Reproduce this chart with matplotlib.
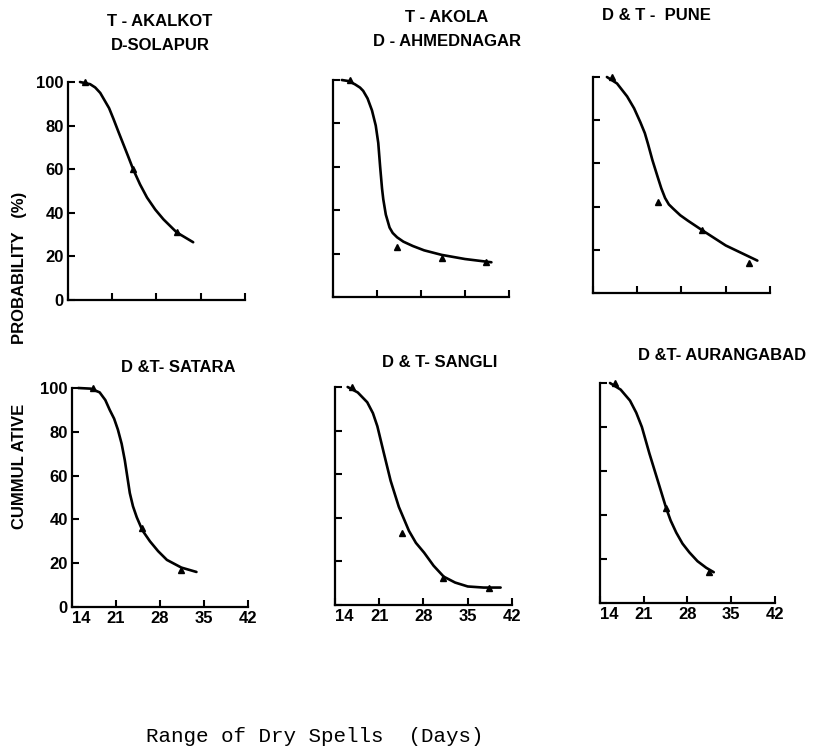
import matplotlib
matplotlib.use("Agg")
import matplotlib.pyplot as plt

# (days, cumulative probability %)

titles = [["T - AKALKOT", "D-SOLAPUR"],
          ["T - AKOLA", "D - AHMEDNAGAR"],
          ["D & T -  PUNE"],
          ["D &T- SATARA"],
          ["D & T- SANGLI"],
          ["D &T- AURANGABAD"]]

# plotted points (small triangle marks)
akalkot_px = [16.7, 24.3, 31.2]
akalkot_py = [100, 60, 31]
akola_px = [16.7, 24.2, 31.3, 38.4]
akola_py = [100, 23, 18, 16]
pune_px = [17.0, 24.3, 31.3, 38.6]
pune_py = [100, 42, 29, 14]
satara_px = [17.3, 25.1, 31.4]
satara_py = [100, 36, 17]
sangli_px = [16.7, 24.6, 31.1, 38.3]
sangli_py = [100, 33, 12.4, 8]
aurang_px = [16.4, 24.6, 31.4]
aurang_py = [100, 43, 14]

# hand fitted curves
akalkot_cx = [15.9, 17.5, 18.3, 19.1, 20.5, 21.2, 22.0, 23.5, 24.3, 25.4, 26.5, 27.8, 29.1, 31.2, 33.8]
akalkot_cy = [100, 99, 97.5, 95, 88, 83, 77, 66, 60, 53, 47, 41.5, 37, 31, 26.5]
akola_cx = [15.4, 16.5, 17.5, 18.3, 18.8, 19.5, 20.2, 20.8, 21.2, 21.5, 21.8, 22.0, 22.4, 23.0,
            23.5, 24.2, 25.2, 26.7, 28.5, 31.3, 35.0, 39.2]
akola_cy = [100, 99.5, 98, 96.5, 95, 91.5, 86, 79, 71, 60, 50, 45, 38, 32,
            29.5, 27.5, 25.5, 23.5, 21.5, 19.4, 17.5, 16]
pune_cx = [16.2, 17.8, 19.4, 20.5, 21.5, 22.2, 22.7, 23.4, 24.2, 24.8, 25.4, 26.0, 26.7, 27.8,
           29.0, 31.3, 35.0, 40.0]
pune_cy = [100, 97, 91, 85.5, 79, 74, 69, 61.5, 54, 48.5, 44, 41, 39, 36,
           33.5, 29, 22, 15]
satara_cx = [15.0, 17.0, 18.4, 19.3, 20.0, 20.7, 21.3, 21.9, 22.4, 22.8, 23.2, 23.7, 24.3, 25.2,
             26.4, 27.7, 29.1, 31.4, 33.8]
satara_cy = [100, 99.7, 98, 94.5, 90, 86, 81, 74.5, 67, 59.5, 52, 46, 41, 35,
             30, 25.5, 21.5, 18, 16]
sangli_cx = [16.0, 17.6, 19.1, 20.0, 20.7, 21.2, 21.7, 22.8, 24.1, 25.7, 26.8, 28.1, 29.6, 31.2,
             33.0, 35.0, 37.5, 40.2]
sangli_cy = [100, 97.5, 93, 88, 82, 76, 70, 57, 45, 34, 28.5, 24, 18, 13,
             10.3, 8.5, 8, 8]
aurang_cx = [15.6, 17.3, 18.8, 19.8, 20.7, 21.9, 23.2, 24.6, 25.3, 26.2, 27.2, 28.3, 29.6, 31.0, 32.2]
aurang_cy = [100, 97, 92, 86.5, 80, 68, 56, 43, 37.5, 32, 27, 23, 19, 16, 14]

points = [(akalkot_px, akalkot_py), (akola_px, akola_py), (pune_px, pune_py),
          (satara_px, satara_py), (sangli_px, sangli_py), (aurang_px, aurang_py)]
curves = [(akalkot_cx, akalkot_cy), (akola_cx, akola_cy), (pune_cx, pune_cy),
          (satara_cx, satara_cy), (sangli_cx, sangli_cy), (aurang_cx, aurang_cy)]

xticks = [14, 21, 28, 35, 42]
yticks = [0, 20, 40, 60, 80, 100]

W, H = 820, 751
fig = plt.figure(figsize=(W / 100, H / 100), dpi=100)

# axes boxes in pixels: left, right, top, bottom
boxes = [(68, 245, 82, 300), (333, 509, 80, 297), (593, 770, 77, 293),
         (72, 248, 388, 607), (335, 512, 387, 605), (600, 775, 383, 603)]

lab_font = dict(family=["Liberation Sans", "DejaVu Sans"], weight="bold")

for i in range(6):
  l, r, t, b = boxes[i]
  ax = fig.add_axes([l / W, 1 - b / H, (r - l) / W, (b - t) / H])
  cx, cy = curves[i]
  px, py = points[i]
  ax.plot(cx, cy, color="black", lw=1.9, solid_joinstyle="round", solid_capstyle="round", clip_on=False)
  ax.plot(px, py, "^", color="black", ms=4.5, clip_on=False)
  ax.set_xlim(14, 42)
  ax.set_ylim(0, 100)
  ax.set_xticks(xticks)
  ax.set_yticks(yticks)
  for s in ["top", "right"]:
    ax.spines[s].set_visible(False)
  for s in ["left", "bottom"]:
    ax.spines[s].set_linewidth(1.6)
  ax.tick_params(direction="in", length=5, width=1.5, pad=3)
  if i % 3 == 0:
    ax.set_yticklabels([str(v) for v in yticks], fontdict=lab_font, fontsize=12)
  else:
    ax.set_yticklabels([])
  if i >= 3:
    xl = ax.set_xticklabels([str(v) for v in xticks], fontdict=lab_font, fontsize=12)
    xl[0].set_ha("left")   # the "14" sits just right of the corner
  else:
    ax.set_xticklabels([])

# panel titles (centre x, first line y in pixels)
title_pos = [(160, 22), (447, 18), (656, 15), (178, 368), (440, 363), (722, 355)]
for i in range(6):
  x0, y0 = title_pos[i]
  for k, line in enumerate(titles[i]):
    fig.text(x0 / W, 1 - (y0 + 23 * k) / H, line, ha="center", va="center",
             fontsize=12, **lab_font)

# shared y label, split in two words like the original
fig.text(20 / W, 1 - 268 / H, "PROBABILITY   (%)", rotation=90, ha="center", va="center",
         fontsize=12, **lab_font)
fig.text(20 / W, 1 - 466 / H, "CUMMUL ATIVE", rotation=90, ha="center", va="center",
         fontsize=12, **lab_font)

fig.text(315 / W, 1 - 737 / H, "Range of Dry Spells  (Days)", ha="center", va="center",
         fontsize=15, family=["Liberation Mono", "DejaVu Sans Mono"])

fig.savefig("out.png", dpi=100, facecolor="white")
